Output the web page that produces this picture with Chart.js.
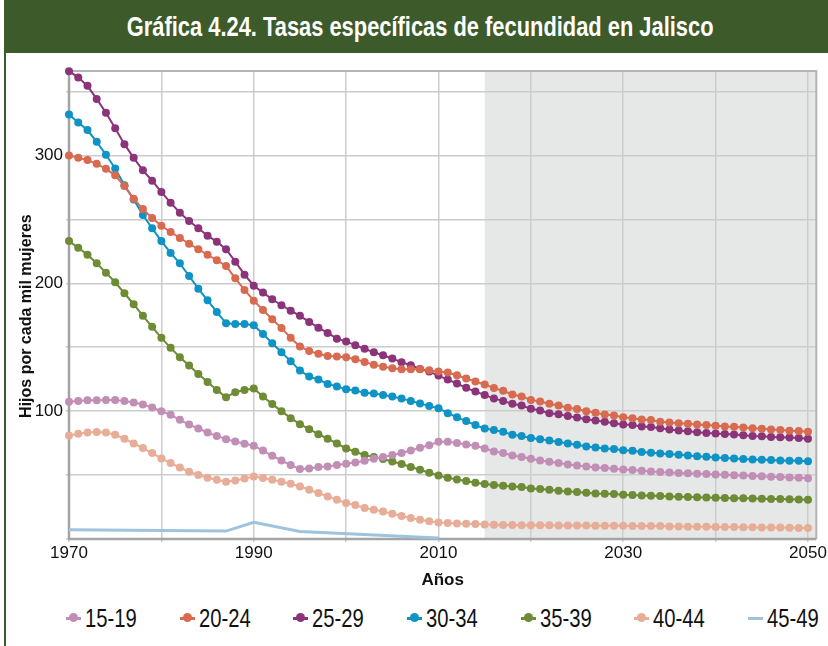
<!DOCTYPE html>
<html lang="es">
<head>
  <meta charset="UTF-8">
  <title>Gráfica 4.24. Tasas específicas de fecundidad en Jalisco</title>
  <script src="https://cdn.jsdelivr.net/npm/chart.js"></script>
  <style>
    body {
      margin: 0;
      width: 828px;
      height: 646px;
      overflow: hidden;
      position: relative;
      background: #fff;
      font-family: 'Liberation Sans Narrow', 'Arial Narrow', 'Liberation Sans', sans-serif;
    }
    .frame {
      position: absolute;
      left: 4px;
      top: 0;
      width: 840px;
      height: 646px;
      border-left: 2px solid #3d5a2b;
    }
    .title {
      position: absolute;
      left: 4px;
      top: 0;
      width: 824px;
      height: 53px;
      background: #3d5a2b;
      color: #fff;
      font-weight: bold;
      font-size: 27px;
      line-height: 55px;
      text-align: center;
      white-space: nowrap;
    }
    /* no hay fuente angosta instalada: se comprime el texto HTML */
    .title span {
      display: inline-block;
      transform: scaleX(0.81);
      transform-origin: center;
      margin-left: 8px;
    }
    .chart-box {
      position: absolute;
      left: 0;
      top: 53px;
      width: 828px;
      height: 547px;
    }
    .legend {
      position: absolute;
      left: 66px;
      top: 603px;
      height: 30px;
      display: flex;
    }
    .legend .item {
      width: 113.7px;
      display: flex;
      align-items: center;
      font-size: 25px;
      color: #111;
      white-space: nowrap;
    }
    .legend .item .txt {
      display: inline-block;
      transform: scaleX(0.81);
      transform-origin: left center;
    }
    .legend .mark {
      position: relative;
      flex: none;
      width: 15px;
      height: 3px;
      margin-right: 4px;
    }
    .legend .mark .dot {
      position: absolute;
      left: 3px;
      top: -3.5px;
      width: 9px;
      height: 9px;
      border-radius: 50%;
    }
  </style>
</head>
<body>
  <div class="frame"></div>
  <div class="title"><span>Gráfica 4.24. Tasas específicas de fecundidad en Jalisco</span></div>
  <div class="chart-box"><canvas id="fecChart"></canvas></div>
  <div class="legend" id="legend"></div>

  <script>
    // años 1970-2050, un punto por año
    const years = Array.from({ length: 81 }, (_, i) => 1970 + i);

    const v1519 = [
      107.3, 108, 108.6, 108.6, 108.8, 108.8, 108, 106.7, 105.2, 102.8, 100, 97.1, 93.2, 89.5, 86.4, 83.3, 80.5,
      78.1, 76.3, 74.5, 72.9, 69.2, 65.1, 61.4, 57.8, 54.7, 55.2, 56.3, 56.7, 57.8, 58.8, 59.8, 61.2,
      62.7, 64.1, 65.6, 67.2, 69.2, 71.3, 73.4, 76, 76, 75, 73.9, 72.9, 70.8, 68.4, 67.2, 65.3,
      64.1, 62.7, 61.4, 60.4, 59.4, 58.3, 57.5, 56.7, 55.9, 55.5, 54.9, 54.4, 53.9, 53.4, 52.8, 52.3,
      52, 51.7, 51.4, 51.1, 50.8, 50.5, 50.2, 49.9, 49.6, 49.3, 49, 48.7, 48.4, 48.1, 47.9, 47.6
    ];
    const v2024 = [
      300, 298.1, 296.3, 293.4, 289.5, 284.4, 276, 266.1, 258, 251, 245, 240.1, 235.4, 230.9, 226.6, 222.3, 218,
      213.5, 203.9, 194.8, 186.4, 179.1, 171.9, 165.1, 157.3, 150.5, 147.1, 144.8, 143.2, 142.7, 142.2, 140.6, 138.5,
      136.2, 134.8, 133.6, 132.8, 132.8, 132.8, 132, 130.9, 130.2, 128.1, 125.5, 123.1, 120.8, 118, 115.9, 113,
      111.4, 108.8, 107.5, 105.7, 104.4, 102.6, 101.6, 100, 98.7, 97.3, 96.6, 95.3, 94.5, 93.4, 93, 91.6,
      91.1, 90.6, 90.1, 89.5, 89.1, 88.5, 88, 87.7, 87.2, 86.7, 86.2, 85.6, 85.2, 84.6, 84.4, 83.8
    ];
    const v2529 = [
      365.9, 361, 354.4, 344.2, 333.3, 321.3, 308.8, 298.1, 288.3, 280.2, 271.3, 263, 255.2, 248.7, 243, 237.2, 232.5,
      226.6, 216.9, 206.7, 198.1, 192.7, 187.5, 182.8, 178.6, 174.5, 169.8, 165.3, 161.2, 156.7, 154.4, 151.6, 148.7,
      146.1, 143.7, 141.1, 138.3, 135.9, 133, 130.9, 127.8, 124.7, 121.6, 118.2, 115.3, 112.7, 109.8, 108, 105.7,
      104.4, 101.8, 100.5, 98.4, 97.6, 96.1, 95, 93.7, 92.7, 91.6, 90.6, 89.5, 89.1, 88, 87.5, 86.7,
      85.6, 84.9, 84.3, 83.4, 82.9, 82.5, 82.2, 81.7, 81.1, 80.6, 80.3, 79.8, 79.5, 79.3, 79, 78.4
    ];
    const v3034 = [
      332, 325.8, 319.8, 310.6, 300.5, 289.8, 276.6, 265.6, 253.4, 243, 233, 223.7, 215.6, 205.7, 195.8, 186.7, 177.6,
      168.7, 168.2, 168.2, 167.2, 160.4, 153.1, 146.1, 139.1, 131.7, 127, 124.7, 121.3, 119.2, 117.2, 116.1, 114.3,
      113.8, 112.7, 111.4, 109.8, 108, 105.9, 104.1, 102.3, 98.4, 95.3, 92.2, 89.1, 86.4, 85.2, 83.8, 81.5,
      80.5, 78.9, 78.1, 77, 75.8, 74.7, 73.7, 72.3, 71.6, 70.8, 70.3, 69.5, 69, 68, 67.4, 66.9,
      66.4, 65.9, 65.3, 64.8, 64.3, 63.8, 63.3, 63, 62.5, 62.2, 62, 61.7, 61.4, 61.2, 61.2, 60.9
    ];
    const v3539 = [
      233, 227.8, 222.3, 215.6, 208.3, 200.8, 192.2, 183.6, 174.5, 165.9, 157.3, 149.5, 142.2, 135.6, 129.1, 122.7, 116.6,
      110.9, 114.8, 116.6, 117.7, 111.4, 105.5, 100, 94.5, 89.8, 85.9, 82, 78.4, 74.7, 70.8, 68.2, 65.6,
      64.1, 62.5, 60.6, 58.6, 56.3, 54.1, 51.8, 49.7, 47.9, 46.6, 45.3, 44, 43, 42.2, 41.6, 41.1,
      40.6, 39.5, 39.1, 38.5, 37.7, 37.2, 36.7, 36.2, 35.6, 35.4, 35.2, 34.6, 34.4, 34.1, 33.8, 33.6,
      33.3, 33, 32.8, 32.6, 32.4, 32.2, 32.1, 31.9, 31.8, 31.6, 31.5, 31.3, 31.2, 31.1, 30.9, 30.7
    ];
    const v4044 = [
      81, 82.3, 83.3, 83.6, 83.3, 81.5, 78.4, 74.7, 71.1, 67.2, 63, 59.4, 55.9, 52.6, 50, 47.9, 46.3,
      44.8, 45.8, 47.3, 48.9, 47.7, 46.3, 44.8, 43.2, 41.1, 38.5, 35.9, 33.3, 30.7, 28.1, 26.6, 24.2,
      22.9, 21.6, 19.8, 18, 16.4, 15.1, 13.8, 13, 12.5, 12.2, 12, 11.7, 11.4, 11.2, 10.9, 10.9,
      10.8, 10.8, 10.7, 10.7, 10.6, 10.6, 10.5, 10.5, 10.4, 10.4, 10.3, 10.3, 10.2, 10.2, 10.1, 10.1,
      9.8, 9.7, 9.6, 9.6, 9.5, 9.4, 9.3, 9.3, 9.2, 9.1, 9.0, 9.0, 8.9, 8.8, 8.7, 8.6
    ];
    // 45-49 solo tiene unos cuantos vértices hasta 2010
    const years4549 = [1970, 1987, 1990, 1995, 2010];
    const v4549 = [7.3, 6.2, 13, 5.9, 0.8];

    const xTicks = [1970, 1980, 1990, 2000, 2010, 2020, 2030, 2040, 2050];
    const xLabels = [1970, 1990, 2010, 2030, 2050];
    const yTicks = [0, 50, 100, 150, 200, 250, 300, 350];
    const yLabels = [100, 200, 300];
    const projectionStart = 2015;

    const NARROW = "'Liberation Sans Narrow', 'Arial Narrow', 'Liberation Sans', sans-serif";
    Chart.defaults.font.family = NARROW;
    Chart.defaults.color = '#111';

    function toXY(xs, ys) {
      return xs.map((x, i) => ({ x: x, y: ys[i] }));
    }

    function dotted(label, values, color) {
      return {
        label: label,
        data: toXY(years, values),
        borderColor: color,
        backgroundColor: color,
        pointBackgroundColor: color,
        pointBorderColor: color,
        pointBorderWidth: 0,
        pointRadius: 4,
        borderWidth: 2,
        tension: 0,
        clip: false
      };
    }

    const datasets = [
      dotted('15-19', v1519, '#c18fb6'),
      dotted('20-24', v2024, '#d86a50'),
      dotted('25-29', v2529, '#8c3479'),
      dotted('30-34', v3034, '#0f93c5'),
      dotted('35-39', v3539, '#6e8b35'),
      dotted('40-44', v4044, '#e8ad98'),
      {
        label: '45-49',
        data: toXY(years4549, v4549),
        borderColor: '#9fc2df',
        backgroundColor: '#9fc2df',
        pointRadius: 0,
        borderWidth: 3,
        tension: 0,
        clip: false
      }
    ];

    // zona gris de proyección, debajo de la rejilla
    const shadePlugin = {
      id: 'shade',
      beforeDraw(chart) {
        const { ctx, chartArea, scales } = chart;
        const x0 = scales.x.getPixelForValue(projectionStart);
        ctx.save();
        ctx.fillStyle = '#e6e8e7';
        ctx.fillRect(x0, chartArea.top, chartArea.right - x0, chartArea.bottom - chartArea.top);
        ctx.restore();
      },
      beforeDatasetsDraw(chart) {
        const { ctx, chartArea } = chart;
        ctx.save();
        ctx.strokeStyle = '#b4b4b4';
        ctx.lineWidth = 2;
        ctx.beginPath();
        ctx.moveTo(chartArea.left, chartArea.top);
        ctx.lineTo(chartArea.right, chartArea.top);
        ctx.lineTo(chartArea.right, chartArea.bottom);
        ctx.stroke();
        ctx.strokeStyle = '#a4a4a4';
        ctx.lineWidth = 2.5;
        ctx.beginPath();
        ctx.moveTo(chartArea.left, chartArea.top);
        ctx.lineTo(chartArea.left, chartArea.bottom);
        ctx.lineTo(chartArea.right, chartArea.bottom);
        ctx.stroke();
        ctx.restore();
      }
    };

    new Chart(document.getElementById('fecChart'), {
      type: 'line',
      data: { datasets: datasets },
      options: {
        responsive: true,
        maintainAspectRatio: false,
        animation: false,
        layout: { padding: { left: 0, right: 9, top: 18, bottom: 0 } },
        plugins: {
          legend: { display: false },
          tooltip: { enabled: false }
        },
        scales: {
          x: {
            type: 'linear',
            min: 1970,
            max: 2050.9,
            afterBuildTicks: (scale) => { scale.ticks = xTicks.map(v => ({ value: v })); },
            afterFit: (scale) => { scale.height = 61; },
            grid: { color: '#cccccc', lineWidth: 1.5, drawTicks: true, tickLength: 3 },
            border: { display: false },
            ticks: {
              padding: 1,
              maxRotation: 0,
              autoSkip: false,
              font: { size: 17 },
              callback: (v) => xLabels.includes(v) ? String(v) : ''
            },
            title: {
              display: true,
              text: 'Años',
              font: { size: 17, weight: 'bold' },
              padding: { top: 0, bottom: 9 }
            }
          },
          y: {
            min: 0,
            max: 366,
            afterBuildTicks: (scale) => { scale.ticks = yTicks.map(v => ({ value: v })); },
            afterFit: (scale) => { scale.width = 69; },
            grid: { color: '#cccccc', lineWidth: 1.5, drawTicks: true, tickLength: 3 },
            border: { display: false },
            ticks: {
              padding: 3,
              font: { size: 17 },
              callback: (v) => yLabels.includes(v) ? String(v) : ''
            },
            title: {
              display: true,
              // espacios al final para bajar el título como en el original
              text: 'Hijos por cada mil mujeres\u00a0\u00a0\u00a0\u00a0\u00a0',
              font: { size: 16, weight: 'bold' },
              padding: { top: 17, bottom: 0 }
            }
          }
        }
      },
      plugins: [shadePlugin]
    });

    // leyenda en HTML con el mismo marcador de línea y punto
    const legendEl = document.getElementById('legend');
    datasets.forEach((ds) => {
      const item = document.createElement('div');
      item.className = 'item';
      const mark = document.createElement('span');
      mark.className = 'mark';
      mark.style.background = ds.borderColor;
      if (ds.pointRadius > 0) {
        const dot = document.createElement('span');
        dot.className = 'dot';
        dot.style.background = ds.borderColor;
        mark.appendChild(dot);
      }
      const txt = document.createElement('span');
      txt.className = 'txt';
      txt.textContent = ds.label;
      item.appendChild(mark);
      item.appendChild(txt);
      legendEl.appendChild(item);
    });
  </script>
</body>
</html>
